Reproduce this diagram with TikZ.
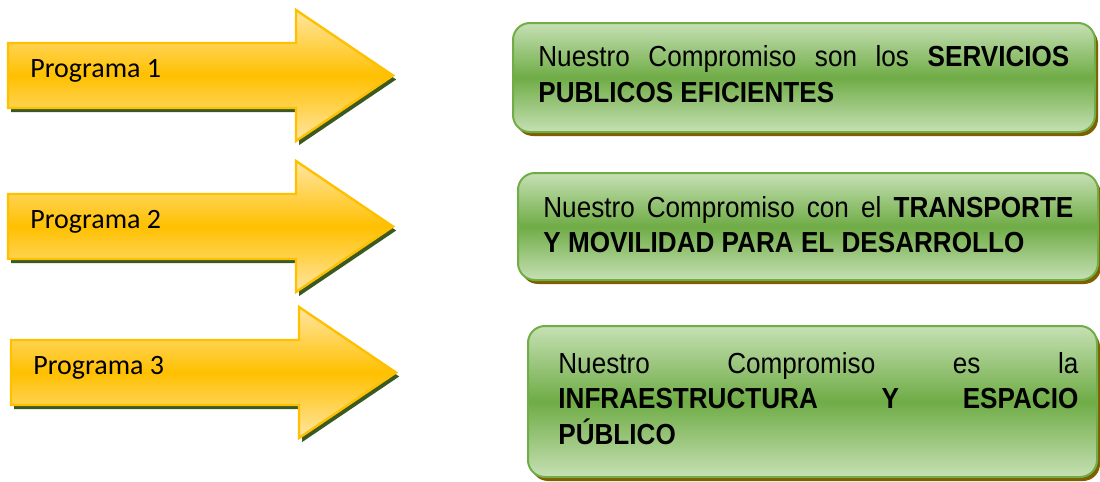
\documentclass[tikz,border=0pt]{standalone}
\usepackage{fontspec}
\usepackage{tikz}
\newfontfamily\progfont{Carlito}
\newfontfamily\compfont{Liberation Sans}[FakeStretch=0.9]
\definecolor{arrowline}{HTML}{FFC000}
\definecolor{arrowmid}{HTML}{FFC000}
\definecolor{arrowlight}{HTML}{FFE6A3}
\definecolor{arrowshadow}{HTML}{3B5A22}
\definecolor{boxline}{HTML}{70AD47}
\definecolor{boxmid}{HTML}{6FAC46}
\definecolor{boxlight}{HTML}{C6E0B4}
\definecolor{boxshadow}{HTML}{7F6000}
\hyphenpenalty=10000

\begin{document}
\begin{tikzpicture}[x=0.5pt,y=-0.5pt,
	progarrow/.style={draw=arrowline,line width=1.2pt,line join=miter,
	  top color=arrowlight,bottom color=arrowlight,middle color=arrowmid,
	  preaction={fill=arrowshadow,transform canvas={shift={(1.6pt,-2pt)}}}},
	progbox/.style={draw=boxline,line width=1pt,rounded corners=8.5pt,
	  top color=boxlight,bottom color=boxlight,middle color=boxmid,
	  preaction={fill=boxshadow,transform canvas={shift={(1.5pt,-2pt)}}}},
	progtext/.style={anchor=base west,inner sep=0pt,font=\progfont\fontsize{14}{17}\selectfont},
	comptext/.style={anchor=base west,inner sep=0pt,align=justify,
	  font=\compfont\fontsize{14.5}{17.8}\selectfont}]
	\useasboundingbox (0,0) rectangle (1100,482);
	% flechas
	\path[progarrow] (8,43) -- (296,43) -- (296,10) -- (393,75.5)
	     -- (296,141) -- (296,108) -- (8,108) -- cycle;
	\path[progarrow] (8,194) -- (296,194) -- (296,161) -- (393,226.5)
	     -- (296,292) -- (296,259) -- (8,259) -- cycle;
	\path[progarrow] (11,340) -- (299,340) -- (299,307) -- (396,372.5)
	     -- (299,438) -- (299,405) -- (11,405) -- cycle;
	\node[progtext] (P1) at (30,77) {Programa 1};
	\node[progtext] (P2) at (30,228) {Programa 2};
	\node[progtext] (P3) at (33,374) {Programa 3};
	% cuadros
	\path[progbox] (513,23) rectangle (1095,132);
	\path[progbox] (518,173) rectangle (1098,280);
	\path[progbox] (528,326) rectangle (1097,477);
	\node[comptext,text width=265.5pt] (C1) at (538,67)
	     {Nuestro Compromiso son los \textbf{SERVICIOS}\linebreak \textbf{PUBLICOS EFICIENTES}};
	\node[comptext,text width=265pt] (C2) at (543,217)
	     {Nuestro Compromiso con el \textbf{TRANSPORTE}\linebreak \textbf{Y MOVILIDAD PARA EL DESARROLLO}};
	\node[comptext,text width=260pt] (C3) at (558,373)
	     {Nuestro Compromiso es la\linebreak \textbf{INFRAESTRUCTURA Y ESPACIO}\linebreak \textbf{PÚBLICO}};
\end{tikzpicture}
\end{document}
